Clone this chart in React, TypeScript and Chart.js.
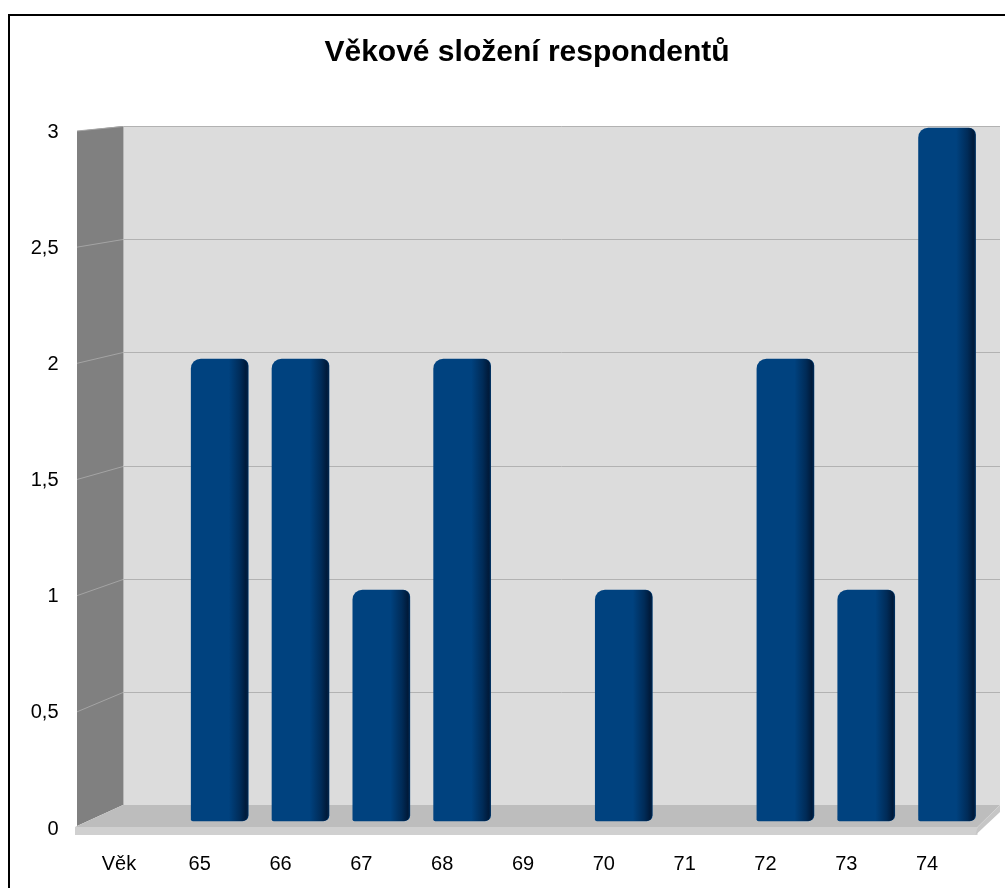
import React, { useEffect, useRef } from 'react';
import { Chart, registerables } from 'chart.js';

Chart.register(...registerables);

const chartTitle = 'Věkové složení respondentů';
const categories = ['Věk', '65', '66', '67', '68', '69', '70', '71', '72', '73', '74'];
const counts = [0, 2, 2, 1, 2, 0, 1, 0, 2, 1, 3];
const yTicks = [0, 0.5, 1, 1.5, 2, 2.5, 3];

const FONT = '"Liberation Sans", Arial, sans-serif';
const BAR_COLOR = '#00427f';

const decorPlugin = {
  id: 'decor3d',
  beforeDraw(chart: any) {
    const { ctx, chartArea: a, scales } = chart;
    const yF = scales.y;
    const yW = scales.yWall;
    const fl = a.left - 1.5;
    const bl = a.left + 44.5;
    const br = a.right + 32.5;
    const fr = a.right + 10;
    const top = yW.getPixelForValue(3);
    const bot = yW.getPixelForValue(0);
    const frontFloor = yF.getPixelForValue(0) - 2;
    ctx.save();
    // outer frame
    ctx.strokeStyle = '#000';
    ctx.lineWidth = 2;
    ctx.strokeRect(9, 15, 1200, 1000);
    // back wall
    ctx.fillStyle = '#dcdcdc';
    ctx.fillRect(bl, top, br - bl, bot - top);
    // side wall
    ctx.fillStyle = '#808080';
    ctx.beginPath();
    ctx.moveTo(fl, yF.getPixelForValue(3) - 1);
    ctx.lineTo(bl, top);
    ctx.lineTo(bl, bot);
    ctx.lineTo(fl, frontFloor - 1);
    ctx.closePath();
    ctx.fill();
    // grid lines
    ctx.lineWidth = 1;
    yTicks.forEach((v) => {
      if (v === 0) return;
      const yb = Math.round(yW.getPixelForValue(v)) + 0.5;
      ctx.strokeStyle = '#b2b2b2';
      ctx.beginPath();
      ctx.moveTo(bl, yb);
      ctx.lineTo(br, yb);
      ctx.stroke();
      ctx.strokeStyle = '#a4a4a4';
      ctx.beginPath();
      ctx.moveTo(fl, yF.getPixelForValue(v) - 1);
      ctx.lineTo(bl, yb);
      ctx.stroke();
    });
    // edge between side and back wall
    ctx.strokeStyle = '#b8b8b8';
    ctx.beginPath();
    ctx.moveTo(bl + 0.5, top);
    ctx.lineTo(bl + 0.5, bot);
    ctx.stroke();
    // floor top face
    ctx.fillStyle = '#bdbdbd';
    ctx.beginPath();
    ctx.moveTo(fl - 2, frontFloor);
    ctx.lineTo(bl, bot);
    ctx.lineTo(br, bot);
    ctx.lineTo(fr, frontFloor);
    ctx.closePath();
    ctx.fill();
    // floor front face
    ctx.fillStyle = '#d0d0d0';
    ctx.fillRect(fl - 2, frontFloor, fr - (fl - 2), 8);
    // floor right face
    ctx.fillStyle = '#c6c6c6';
    ctx.beginPath();
    ctx.moveTo(fr, frontFloor);
    ctx.lineTo(br, bot);
    ctx.lineTo(br, bot + 7);
    ctx.lineTo(fr - 2, frontFloor + 8);
    ctx.closePath();
    ctx.fill();
    ctx.restore();
  },
  afterDatasetsDraw(chart: any) {
    const { ctx } = chart;
    const meta = chart.getDatasetMeta(0);
    ctx.save();
    meta.data.forEach((bar: any) => {
      const { x, y, width, base } = bar.getProps(['x', 'y', 'width', 'base'], true);
      const h = base - y;
      if (h < 1) return;
      const l = x - width / 2;
      const r = x + width / 2;
      const g = ctx.createLinearGradient(l, 0, r, 0);
      g.addColorStop(0, 'rgba(0,10,30,0)');
      g.addColorStop(0.66, 'rgba(0,10,30,0)');
      g.addColorStop(0.86, 'rgba(0,10,30,0.4)');
      g.addColorStop(0.96, 'rgba(0,10,30,0.7)');
      g.addColorStop(1, 'rgba(0,10,30,0.5)');
      ctx.beginPath();
      ctx.roundRect(l, y, width, h, [10, 7, 6, 2]);
      ctx.fillStyle = g;
      ctx.fill();
    });
    ctx.restore();
  },
  afterDraw(chart: any) {
    const { ctx, width } = chart;
    ctx.save();
    ctx.fillStyle = '#000';
    ctx.font = `bold 30px ${FONT}`;
    ctx.textAlign = 'center';
    ctx.textBaseline = 'middle';
    ctx.fillText(chartTitle, width / 2 + 24.5, 53);
    ctx.restore();
  },
};

export default function App() {
  const ref = useRef<HTMLCanvasElement | null>(null);
  useEffect(() => {
    if (!ref.current) return;
    const chart = new Chart(ref.current, {
      type: 'bar',
      data: {
        labels: categories,
        datasets: [
          {
            data: counts.map((v, i) => ({ x: i, y: v })),
            xAxisID: 'xb',
            yAxisID: 'yBar',
            backgroundColor: (c: any) => (c.raw && c.raw.y > 0 ? BAR_COLOR : 'rgba(0,0,0,0)'),
            borderWidth: 0,
            borderSkipped: false,
            borderRadius: { topLeft: 10, topRight: 7, bottomLeft: 2, bottomRight: 6 },
            barThickness: 57,
            clip: false,
          } as any,
        ],
      },
      options: {
        responsive: false,
        animation: false,
        layout: { padding: { left: 0, right: 0, top: 132, bottom: 0 } },
        plugins: {
          legend: { display: false },
          tooltip: { enabled: false },
          title: { display: false },
        },
        scales: {
          x: {
            type: 'category',
            labels: categories,
            position: 'bottom',
            grid: { display: false, drawTicks: false },
            border: { display: false },
            ticks: { color: '#000', font: { family: FONT, size: 20 }, padding: 23, maxRotation: 0, autoSkip: false },
            afterFit: (s: any) => { s.height = 59; },
          },
          xb: { type: 'linear', display: false, offset: false, min: -0.747, max: 10.253 },
          y: {
            type: 'linear',
            position: 'left',
            min: 0,
            max: 3,
            ticks: {
              stepSize: 0.5,
              color: '#000',
              font: { family: FONT, size: 20 },
              padding: 20,
              callback: (v: any) => String(v).replace('.', ','),
            },
            grid: { display: false, drawTicks: false },
            border: { display: false },
            afterFit: (s: any) => { s.width = 78.5; },
          },
          yR: {
            type: 'linear',
            position: 'right',
            display: true,
            ticks: { display: false },
            grid: { display: false, drawTicks: false },
            border: { display: false },
            afterFit: (s: any) => { s.width = 37.5; },
          },
          yBar: { type: 'linear', display: false, min: -0.0346, max: 2.9827 },
          yWall: { type: 'linear', display: false, min: -0.106, max: 2.9735 },
        } as any,
      },
      plugins: [decorPlugin],
    });
    return () => chart.destroy();
  }, []);
  return (
    <div style={{ position: 'absolute', left: 0, top: 0, width: 1005, height: 888, background: '#fff' }}>
      <canvas ref={ref} width={1005} height={888} style={{ display: 'block' }} />
    </div>
  );
}
